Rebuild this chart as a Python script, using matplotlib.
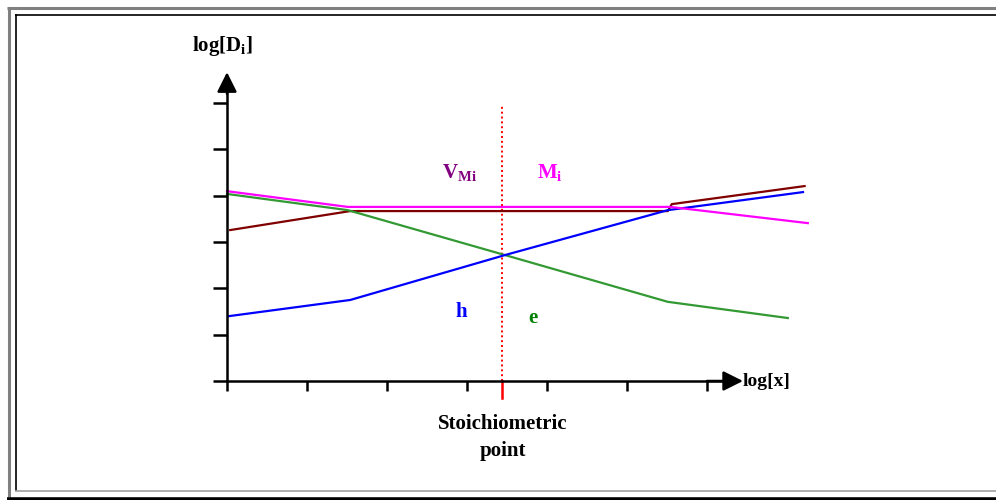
import matplotlib
matplotlib.use('Agg')
import matplotlib.pyplot as plt

# ------------------------- data (units = tick spacing) -------------------------
# M_i (magenta)
m_x = [0.0, 1.51, 5.54, 7.26]
m_y = [4.10, 3.76, 3.76, 3.41]
# V_Mi (brown)
v_x = [0.04, 1.54, 5.51, 5.56, 7.22]
v_y = [3.26, 3.67, 3.67, 3.82, 4.21]
# e (green)
e_x = [0.0, 1.51, 3.475, 5.51, 7.01]
e_y = [4.04, 3.69, 2.72, 1.71, 1.36]
# h (blue)
h_x = [0.02, 1.54, 3.475, 5.51, 7.20]
h_y = [1.40, 1.75, 2.72, 3.69, 4.08]

x_ticks = [0, 1, 2, 3, 4, 5, 6]
y_ticks = [0, 1, 2, 3, 4, 5, 6]
stoich_x = 3.44

plt.rcParams['font.family'] = ['Liberation Serif', 'DejaVu Serif']
plt.rcParams['font.weight'] = 'bold'
plt.rcParams['mathtext.fontset'] = 'custom'
plt.rcParams['mathtext.rm'] = 'Liberation Serif:bold'
plt.rcParams['mathtext.it'] = 'Liberation Serif:bold'
plt.rcParams['mathtext.bf'] = 'Liberation Serif:bold'

W, H = 996, 500
fig = plt.figure(figsize=(W / 100, H / 100), dpi=100)

# ------------------------- sunken frame around picture -------------------------
fa = fig.add_axes([0, 0, 1, 1])
fa.set_xlim(0, W)
fa.set_ylim(H, 0)
fa.axis('off')
fa.plot([7, W], [7.5, 7.5], color='#808080', lw=2.2, solid_capstyle='butt')
fa.plot([8.5, 8.5], [7, 497], color='#808080', lw=2.2, solid_capstyle='butt')
fa.plot([15, W], [14.5, 14.5], color='black', lw=1.2, solid_capstyle='butt')
fa.plot([15.5, 15.5], [14, 491], color='black', lw=1.2, solid_capstyle='butt')
fa.plot([15, W], [491, 491], color='#a0a0a0', lw=1.2, solid_capstyle='butt')
fa.plot([7, W], [498.5, 498.5], color='black', lw=2.6, solid_capstyle='butt')

# ------------------------- main axes: origin at (227, 381) px -------------------------
ox, oy, ux, uy = 227, 381, 80.0, 46.3
ax = fig.add_axes([0, 0, 1, 1])
ax.patch.set_alpha(0)
ax.set_xlim(-ox / ux, (W - ox) / ux)
ax.set_ylim((oy - H) / uy, oy / uy)

for s in ['top', 'right']:
    ax.spines[s].set_visible(False)
ax.spines['left'].set_position(('data', 0))
ax.spines['bottom'].set_position(('data', 0))
ax.spines['left'].set_bounds(0, 6.4)
ax.spines['bottom'].set_bounds(0, 6.2)
ax.spines['left'].set_linewidth(1.8)
ax.spines['bottom'].set_linewidth(1.8)

ax.set_xticks(x_ticks)
ax.set_yticks(y_ticks)
ax.tick_params(axis='x', direction='out', length=7.5, width=1.8, labelbottom=False)
ax.tick_params(axis='y', direction='out', length=10, width=1.8, labelleft=False)

# axis arrows
arrow = dict(arrowstyle='-|>,head_length=0.6,head_width=0.3', color='black',
             lw=1.8, mutation_scale=20, shrinkA=0, shrinkB=0)
ax.annotate('', xy=(0, 6.67), xytext=(0, 6.2), arrowprops=arrow, annotation_clip=False)
ax.annotate('', xy=(6.45, 0), xytext=(6.0, 0), arrowprops=arrow, annotation_clip=False)

# stoichiometric point
ax.plot([stoich_x, stoich_x], [0, 5.96], color='red', lw=1.4, ls=(0, (1, 1.5)))
ax.plot([stoich_x, stoich_x], [0, -0.37], color='red', lw=1.8, clip_on=False)

# curves
ax.plot(v_x, v_y, color='#800000', lw=1.6)
ax.plot(e_x, e_y, color='#339933', lw=1.6)
ax.plot(h_x, h_y, color='#0000ff', lw=1.6)
ax.plot(m_x, m_y, color='#ff00ff', lw=1.6)

# labels
fs = 15
ax.text(-0.06, 7.24, r'log[D$_{i}$]', fontsize=fs, ha='center', va='center')
ax.text(6.45, 0.0, 'log[x]', fontsize=14, ha='left', va='center')
ax.text(2.91, 4.51, r'V$_{Mi}$', fontsize=fs, color='#800080', ha='center', va='center')
ax.text(4.04, 4.51, r'M$_{i}$', fontsize=fs, color='#ff00ff', ha='center', va='center')
ax.text(2.925, 1.49, 'h', fontsize=fs, color='#0000ff', ha='center', va='center')
ax.text(3.825, 1.36, 'e', fontsize=fs, color='#008000', ha='center', va='center')
ax.text(3.45, -0.93, 'Stoichiometric', fontsize=fs, ha='center', va='center')
ax.text(3.45, -1.51, 'point', fontsize=fs, ha='center', va='center')

fig.savefig('out.png', dpi=100)
